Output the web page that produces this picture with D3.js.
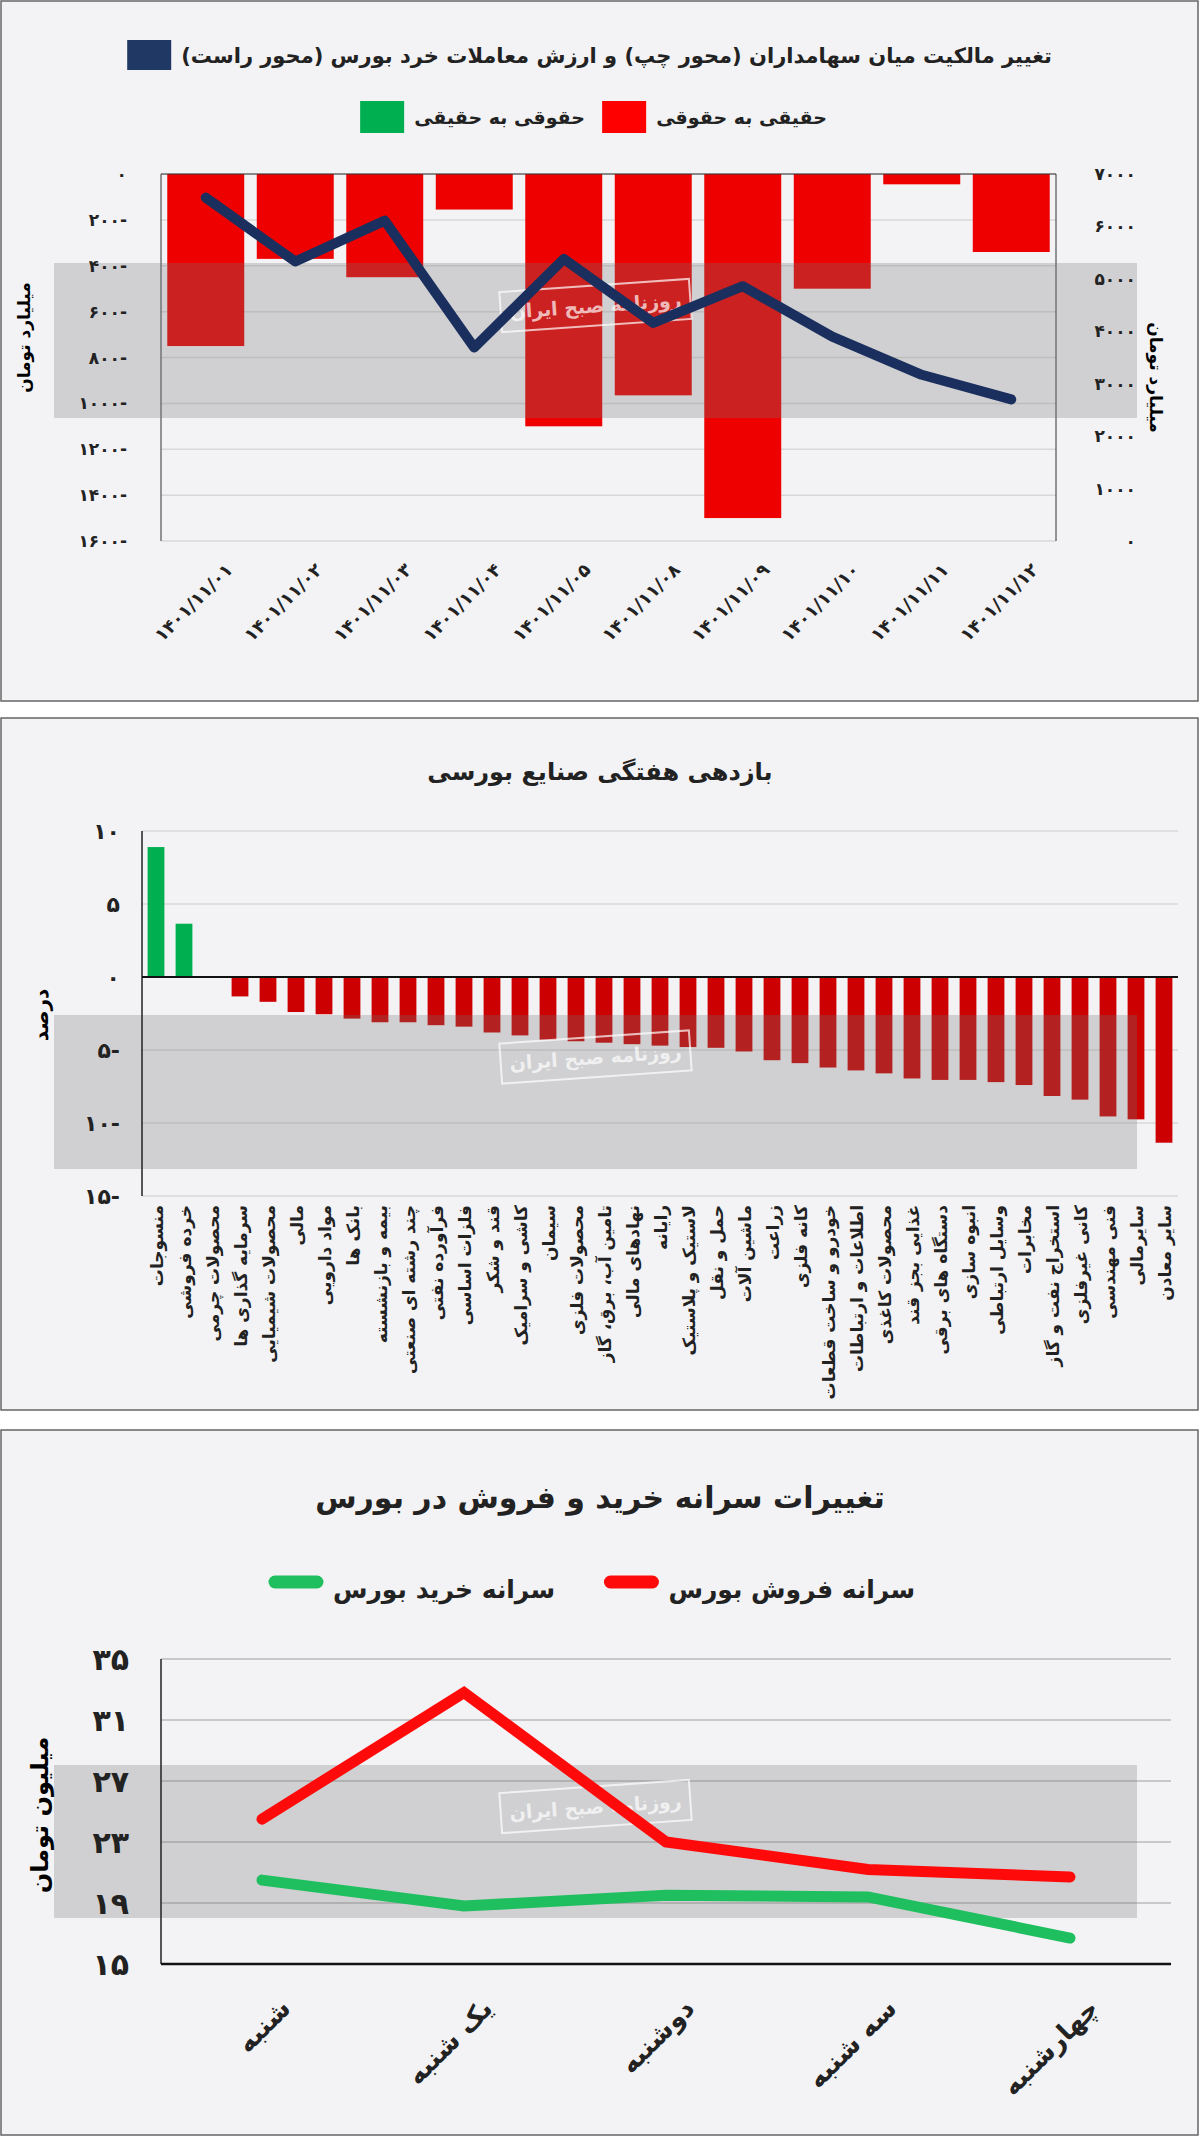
<!DOCTYPE html>
<html><head><meta charset="utf-8">
<script src="https://cdn.jsdelivr.net/npm/d3@7"></script>
<style>body{margin:0;background:#fff}text{font-family:"DejaVu Sans",sans-serif;font-weight:bold}</style>
</head><body><svg id="c" width="1200" height="2136"></svg>
<script>
const fa = n => String(n).replace(/\d/g, d => "۰۱۲۳۴۵۶۷۸۹"[d]);
// Chart 1
const dates1 = ["۱۴۰۱/۱۱/۰۱","۱۴۰۱/۱۱/۰۲","۱۴۰۱/۱۱/۰۳","۱۴۰۱/۱۱/۰۴","۱۴۰۱/۱۱/۰۵","۱۴۰۱/۱۱/۰۸","۱۴۰۱/۱۱/۰۹","۱۴۰۱/۱۱/۱۰","۱۴۰۱/۱۱/۱۱","۱۴۰۱/۱۱/۱۲"];
const ownership = [750, 370, 450, 155, 1100, 965, 1500, 500, 45, 340];
const retailValue = [6550, 5330, 6110, 3690, 5380, 4160, 4860, 3900, 3170, 2700];
const leftTicks1 = [0,200,400,600,800,1000,1200,1400,1600];
const rightTicks1 = [0,1000,2000,3000,4000,5000,6000,7000];
// Chart 2
const industries = ["منسوجات","خرده فروشی","محصولات چرمی","سرمایه گذاری ها","محصولات شیمیایی","مالی","مواد دارویی","بانک ها","بیمه و بازنشسته","چند رشته ای صنعتی","فرآورده نفتی","فلزات اساسی","قند و شکر","کاشی و سرامیک","سیمان","محصولات فلزی","تامین آب، برق، گاز","نهادهای مالی","رایانه","لاستیک و پلاستیک","حمل و نقل","ماشین آلات","زراعت","کانه فلزی","خودرو و ساخت قطعات","اطلاعات و ارتباطات","محصولات کاغذی","غذایی بجز قند","دستگاه های برقی","انبوه سازی","وسایل ارتباطی","مخابرات","استخراج نفت و گاز","کانی غیرفلزی","فنی مهندسی","سایرمالی","سایر معادن"];
const weeklyReturn = [8.9,3.65,0,-1.33,-1.7,-2.4,-2.55,-2.85,-3.1,-3.1,-3.3,-3.4,-3.8,-4.0,-4.3,-4.4,-4.5,-4.6,-4.7,-4.8,-4.85,-5.1,-5.7,-5.9,-6.2,-6.4,-6.6,-6.95,-7.05,-7.05,-7.2,-7.4,-8.15,-8.4,-9.55,-9.75,-11.35];
const ticks2 = [10,5,0,-5,-10,-15];
// Chart 3
const days = ["شنبه","یک شنبه","دوشنبه","سه شنبه","چهارشنبه"];
const sellPerCapita = [24.5, 32.8, 23.0, 21.2, 20.7];
const buyPerCapita = [20.5, 18.8, 19.5, 19.4, 16.7];
const ticks3 = [15,19,23,27,31,35];

const svg = d3.select("#c");
function panel(y0,y1){
  svg.append("rect").attr("x",1).attr("y",y0).attr("width",1197).attr("height",y1-y0).attr("fill","#f3f3f5").attr("stroke","#666").attr("stroke-width",1.5);
}
function band(x,y,w,h){
  svg.append("rect").attr("x",x).attr("y",y).attr("width",w).attr("height",h).attr("fill","rgba(120,120,120,0.28)");
  const g=svg.append("g").attr("transform",`translate(${x+w/2},${y+h/2-35}) rotate(-4)`);
  g.append("rect").attr("x",-95).attr("y",-20).attr("width",190).attr("height",40).attr("fill","none").attr("stroke","rgba(255,255,255,0.7)").attr("stroke-width",2);
  g.append("text").attr("text-anchor","middle").attr("direction","rtl").attr("dy",7).attr("font-size",19).attr("fill","rgba(255,255,255,0.7)").text("روزنامه صبح ایران");
}
function rtext(sel,x,y,size,str){
  return sel.append("text").attr("x",x).attr("y",y).attr("direction","rtl").attr("text-anchor","start").attr("font-size",size).attr("fill","#222").text(str);
}
function legItem(x,y,size,str,drawSw){
  const t=rtext(svg,x,y,size,str);
  const w=t.node().getComputedTextLength();
  drawSw(x-w-10);
}
// ---------- Chart 1
panel(1,701);
{
  const L=161,R=1056,T=174,B=541;
  const x=d3.scaleBand().domain(dates1).range([L,R]).paddingInner(0.14).paddingOuter(0.07);
  const yl=d3.scaleLinear().domain([0,1600]).range([T,B]);
  const yr=d3.scaleLinear().domain([0,7000]).range([B,T]);
  svg.append("g").selectAll("line").data(leftTicks1).join("line").attr("x1",L).attr("x2",R).attr("y1",d=>yl(d)).attr("y2",d=>yl(d)).attr("stroke","#d8d8d8").attr("stroke-width",1.5);
  svg.append("g").selectAll("rect").data(ownership).join("rect").attr("x",(d,i)=>x(dates1[i])).attr("width",x.bandwidth()).attr("y",T).attr("height",d=>yl(d)-T).attr("fill","#ee0000");
  svg.append("line").attr("x1",L).attr("x2",L).attr("y1",T).attr("y2",B).attr("stroke","#333");
  svg.append("line").attr("x1",R).attr("x2",R).attr("y1",T).attr("y2",B).attr("stroke","#333");
  svg.append("line").attr("x1",L).attr("x2",R).attr("y1",T).attr("y2",T).attr("stroke","#333");
  band(54,263,1083,155);
  svg.append("path").datum(retailValue).attr("fill","none").attr("stroke","#1a2f5e").attr("stroke-width",10).attr("stroke-linejoin","round").attr("stroke-linecap","round")
    .attr("d",d3.line().x((d,i)=>x(dates1[i])+x.bandwidth()/2).y(d=>yr(d)));
  svg.append("g").selectAll("text").data(leftTicks1).join("text").attr("x",L-34).attr("y",d=>yl(d)+6).attr("text-anchor","end").attr("font-size",17).attr("fill","#222").text(d=>d===0?"۰":fa(d)+"-");
  svg.append("g").selectAll("text").data(rightTicks1).join("text").attr("x",R+80).attr("y",d=>yr(d)+6).attr("text-anchor","end").attr("font-size",17).attr("fill","#222").text(d=>fa(d));
  svg.append("g").selectAll("text").data(dates1).join("text").attr("transform",d=>`translate(${x(d)+x.bandwidth()/2+28},${B+30}) rotate(-45)`).attr("text-anchor","end").attr("font-size",18).attr("fill","#222").text(d=>d);
  svg.append("text").attr("transform",`translate(30,${(T+B)/2-20}) rotate(-90)`).attr("text-anchor","middle").attr("direction","rtl").attr("font-size",17).text("میلیارد تومان");
  svg.append("text").attr("transform",`translate(1150,${(T+B)/2+20}) rotate(90)`).attr("text-anchor","middle").attr("direction","rtl").attr("font-size",17).text("میلیارد تومان");
  legItem(1052,63,21,"تغییر مالکیت میان سهامداران (محور چپ) و ارزش معاملات خرد بورس (محور راست)",
    l=>svg.append("rect").attr("x",l-44).attr("y",40).attr("width",44).attr("height",30).attr("fill","#1f3864"));
  legItem(827,124,19,"حقیقی به حقوقی",
    l=>svg.append("rect").attr("x",l-44).attr("y",101).attr("width",44).attr("height",32).attr("fill","#ff0000"));
  legItem(585,124,19,"حقوقی به حقیقی",
    l=>svg.append("rect").attr("x",l-44).attr("y",101).attr("width",44).attr("height",32).attr("fill","#00b050"));
}
// ---------- Chart 2
panel(718,1410);
{
  const L=142,R=1178;
  const y=d3.scaleLinear().domain([-15,10]).range([1196,831]);
  const x=d3.scaleBand().domain(industries).range([L,R]).paddingInner(0.4).paddingOuter(0.2);
  svg.append("g").selectAll("line").data(ticks2).join("line").attr("x1",L).attr("x2",R).attr("y1",d=>y(d)).attr("y2",d=>y(d)).attr("stroke","#d8d8d8").attr("stroke-width",1.5);
  svg.append("g").selectAll("rect").data(weeklyReturn).join("rect").attr("x",(d,i)=>x(industries[i])).attr("width",x.bandwidth())
    .attr("y",d=>y(Math.max(0,d))).attr("height",d=>Math.abs(y(d)-y(0))).attr("fill",d=>d>0?"#00b050":"#cc0000");
  band(54,1015,1083,154);
  svg.append("line").attr("x1",L).attr("x2",L).attr("y1",y(10)).attr("y2",y(-15)).attr("stroke","#222").attr("stroke-width",1.5);
  svg.append("line").attr("x1",L).attr("x2",R).attr("y1",y(0)).attr("y2",y(0)).attr("stroke","#111").attr("stroke-width",2);
  svg.append("g").selectAll("text").data(ticks2).join("text").attr("x",L-22).attr("y",d=>y(d)+8).attr("text-anchor","end").attr("font-size",22).attr("fill","#222").text(d=>d<0?fa(-d)+"-":fa(d));
  svg.append("g").selectAll("text").data(industries).join("text").attr("transform",d=>`translate(${x(d)+x.bandwidth()/2+7},${1205}) rotate(-90)`).attr("text-anchor","start").attr("direction","rtl").attr("font-size",17).attr("fill","#222").text(d=>d);
  svg.append("text").attr("transform",`translate(48,1015) rotate(-90)`).attr("text-anchor","middle").attr("direction","rtl").attr("font-size",20).text("درصد");
  svg.append("text").attr("x",600).attr("y",780).attr("text-anchor","middle").attr("direction","rtl").attr("font-size",24).attr("fill","#222").text("بازدهی هفتگی صنایع بورسی");
}
// ---------- Chart 3
panel(1430,2135);
{
  const L=161,R=1171;
  const y=d3.scaleLinear().domain([15,35]).range([1964,1659]);
  const x=d3.scalePoint().domain(days).range([L,R]).padding(0.5);
  svg.append("g").selectAll("line").data(ticks3).join("line").attr("x1",L).attr("x2",R).attr("y1",d=>y(d)).attr("y2",d=>y(d)).attr("stroke","#c8c8c8").attr("stroke-width",2);
  band(54,1765,1083,153);
  svg.append("line").attr("x1",L).attr("x2",L).attr("y1",y(35)).attr("y2",y(15)).attr("stroke","#222").attr("stroke-width",1.5);
  svg.append("line").attr("x1",L).attr("x2",R).attr("y1",y(15)).attr("y2",y(15)).attr("stroke","#111").attr("stroke-width",2.5);
  const ln=d3.line().x((d,i)=>x(days[i])).y(d=>y(d));
  svg.append("path").datum(buyPerCapita).attr("fill","none").attr("stroke","#1fbf5f").attr("stroke-width",11).attr("stroke-linecap","round").attr("d",ln);
  svg.append("path").datum(sellPerCapita).attr("fill","none").attr("stroke","#ff0a0a").attr("stroke-width",11).attr("stroke-linecap","round").attr("d",ln);
  svg.append("g").selectAll("text").data(ticks3).join("text").attr("x",L-32).attr("y",d=>y(d)+11).attr("text-anchor","end").attr("font-size",30).attr("fill","#222").text(d=>fa(d));
  svg.append("g").selectAll("text").data(days).join("text").attr("transform",d=>`translate(${x(d)+30},${2010}) rotate(-45)`).attr("text-anchor","start").attr("direction","rtl").attr("font-size",26).attr("fill","#222").text(d=>d);
  svg.append("text").attr("transform",`translate(48,1815) rotate(-90)`).attr("text-anchor","middle").attr("direction","rtl").attr("font-size",24).text("میلیون  تومان");
  svg.append("text").attr("x",600).attr("y",1508).attr("text-anchor","middle").attr("direction","rtl").attr("font-size",30).attr("fill","#222").text("تغییرات سرانه خرید و فروش در بورس");
  legItem(915,1598,25,"سرانه فروش بورس",
    l=>svg.append("line").attr("x1",l-48).attr("x2",l-6).attr("y1",1582).attr("y2",1582).attr("stroke","#ff0a0a").attr("stroke-width",13).attr("stroke-linecap","round"));
  legItem(555,1598,25,"سرانه خرید بورس",
    l=>svg.append("line").attr("x1",l-48).attr("x2",l-6).attr("y1",1582).attr("y2",1582).attr("stroke","#1fbf5f").attr("stroke-width",13).attr("stroke-linecap","round"));
}
</script></body></html>
